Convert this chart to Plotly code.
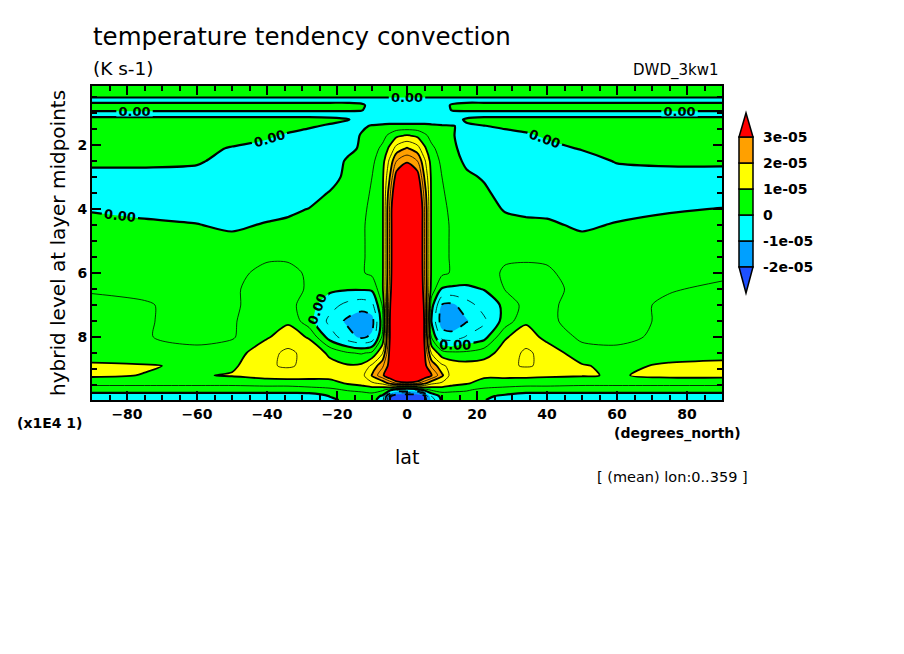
import numpy as np
import plotly.graph_objects as go

# latitude columns (degrees_north) and hybrid level rows (x1E4)
lat = [-90, -75, -60, -50, -40, -34, -28, -22, -17, -13, -10, -7, -5, -3, 0,
       3, 5, 7, 10, 13, 17, 22, 28, 34, 40, 50, 60, 75, 90]
lev = [0.15, 0.45, 0.6, 0.75, 0.9, 1.05, 1.2, 1.4, 1.7, 2.1, 2.5, 3.0, 3.5,
       4.0, 4.5, 5.0, 5.5, 6.0, 6.5, 7.0, 7.5, 8.0, 8.5, 8.9, 9.2, 9.45, 9.65,
       9.85, 9.97]

# zonal mean convective temperature tendency, one row per level, in 1e-05 K/s
lev_0_15 = [.3, .3, .3, .3, .3, .3, .3, .3, .3, .3, .3, .3, .3, .3, .3, .3, .3, .3, .3, .3, .3, .3, .3, .3, .3, .3, .3, .3, .3]
lev_0_45 = [.2, .2, .2, .2, .2, .2, .2, .2, .2, .2, .2, .2, .2, .2, .2, .2, .2, .2, .2, .2, .2, .2, .2, .2, .2, .2, .2, .2, .2]
lev_0_60 = [-.3, -.3, -.3, -.3, -.3, -.3, -.3, -.3, -.3, -.3, -.3, -.3, -.3, -.3, -.3, -.3, -.3, -.3, -.3, -.3, -.3, -.3, -.3, -.3, -.3, -.3, -.3, -.3, -.3]
lev_0_75 = [.3, .3, .3, .3, .3, .3, .3, .3, .3, .15, -.3, -.3, -.3, -.3, -.3, -.3, -.3, -.3, -.3, .1, .3, .3, .3, .3, .3, .3, .3, .3, .3]
lev_0_90 = [.1, .1, .1, .1, .1, .1, .1, .1, .1, .05, -.3, -.3, -.3, -.3, -.3, -.3, -.3, -.3, -.3, .05, .1, .1, .1, .1, .1, .1, .1, .1, .1]
lev_1_05 = [-.3, -.3, -.3, -.3, -.3, -.3, -.3, -.3, -.3, -.3, -.3, -.3, -.3, -.3, -.3, -.3, -.3, -.3, -.3, -.3, -.3, -.3, -.3, -.3, -.3, -.3, -.3, -.3, -.3]
lev_1_20 = [.3, .3, .3, .3, .3, .3, .3, .2, .05, -.3, -.3, -.3, -.3, -.3, -.3, -.3, -.3, -.3, -.3, -.3, .1, .3, .3, .3, .3, .3, .3, .3, .3]
lev_1_40 = [.3, .3, .3, .3, .3, .25, .1, -.1, -.3, -.1, .05, .1, .15, .15, .15, .15, .15, .1, .05, .02, -.1, -.02, .1, .2, .3, .3, .3, .3, .3]
lev_1_70 = [.3, .3, .3, .3, .1, -.1, -.3, -.3, -.3, .05, .2, .35, .6, .9, 1.05, .9, .6, .35, .2, .05, -.3, -.3, -.2, -.1, .1, .3, .3, .3, .3]
lev_2_10 = [.3, .3, .2, -.05, -.2, -.3, -.4, -.4, -.2, .1, .3, .6, 1.1, 1.7, 2.05, 1.7, 1.1, .6, .3, .1, -.2, -.4, -.4, -.3, -.2, .05, .2, .3, .3]
lev_2_50 = [.2, .2, .1, -.3, -.4, -.4, -.4, -.4, .1, .2, .4, .8, 1.6, 2.5, 2.9, 2.5, 1.6, .8, .4, .2, -.1, -.4, -.4, -.4, -.4, -.3, .05, .15, .15]
lev_3_00 = [-.3, -.3, -.3, -.4, -.4, -.4, -.4, -.3, .2, .3, .5, .9, 1.95, 3.3, 4.0, 3.3, 1.95, .9, .5, .3, .1, -.05, -.4, -.4, -.4, -.4, -.3, -.3, -.3]
lev_3_50 = [-.25, -.3, -.35, -.4, -.4, -.4, -.3, .05, .3, .35, .55, .9, 2.3, 3.8, 5.0, 3.8, 2.3, .9, .55, .35, .2, .1, -.2, -.4, -.4, -.4, -.35, -.3, -.25]
lev_4_00 = [-.05, -.15, -.2, -.3, -.2, -.15, .02, .2, .3, .4, .6, .9, 2.5, 4.2, 6.0, 4.2, 2.5, .9, .6, .4, .3, .25, -.05, -.15, -.15, -.3, -.2, -.05, .02]
lev_4_50 = [.2, .1, .02, -.1, .05, .15, .2, .3, .3, .45, .6, .9, 2.5, 4.2, 6.5, 4.2, 2.5, .9, .6, .45, .3, .3, .2, .15, .1, -.1, .05, .15, .2]
lev_5_00 = [.3, .3, .25, .15, .3, .35, .3, .3, .3, .45, .6, .9, 2.5, 4.2, 7.0, 4.2, 2.5, .9, .6, .45, .3, .3, .35, .35, .3, .15, .25, .3, .3]
lev_5_50 = [.35, .35, .3, .3, .45, .45, .4, .35, .3, .45, .6, .9, 2.5, 4.2, 7.0, 4.2, 2.5, .9, .6, .45, .3, .35, .45, .45, .45, .3, .3, .35, .35]
lev_6_00 = [.4, .4, .35, .4, .6, .6, .45, .35, .3, .45, .6, .9, 2.5, 4.3, 7.5, 4.3, 2.5, .9, .6, .45, .3, .35, .55, .6, .55, .35, .35, .4, .45]
lev_6_50 = [.48, .45, .4, .45, .65, .65, .45, .1, .05, .05, .1, .9, 2.6, 4.4, 7.5, 4.4, 2.6, .8, -.05, -.1, -.1, .02, .52, .65, .6, .4, .4, .48, .55]
lev_7_00 = [.55, .52, .42, .45, .65, .7, .2, -.3, -.65, -.8, -.65, .55, 2.8, 4.6, 7.5, 4.6, 2.8, .2, -1.05, -1.1, -.7, -.3, .1, .7, .55, .4, .4, .55, .6]
lev_7_50 = [.6, .52, .42, .45, .8, .92, .2, -.65, -1.1, -1.3, -1.2, .3, 2.9, 4.8, 7.5, 4.8, 2.9, -.05, -1.3, -1.35, -1.05, -.6, .2, .92, .55, .4, .4, .55, .6]
lev_8_00 = [.65, .52, .4, .45, .95, 1.25, .95, -.25, -.8, -1.1, -.9, .6, 2.9, 5.0, 8.0, 5.0, 2.9, .45, -.7, -.8, -.45, -.2, .95, 1.25, .85, .4, .4, .6, .65]
lev_8_50 = [.7, .6, .6, .75, 1.35, 1.6, 1.35, .9, .55, .45, .6, 1.45, 3.1, 5.0, 8.0, 5.0, 3.1, 1.45, .7, .6, .6, .8, 1.2, 1.6, 1.3, .7, .6, .7, .8]
lev_8_90 = [1.1, 1.05, .9, .9, 1.45, 1.55, 1.4, 1.15, 1.05, 1.1, 1.6, 2.4, 3.2, 5.0, 8.0, 5.0, 3.2, 2.4, 1.6, 1.3, 1.2, 1.2, 1.4, 1.55, 1.4, 1.05, .85, 1.1, 1.15]
lev_9_20 = [1.1, .98, .95, 1.05, 1.25, 1.3, 1.25, 1.2, 1.2, 1.3, 2.05, 2.9, 3.5, 4.5, 6.0, 4.5, 3.5, 3.05, 2.1, 1.2, 1.1, 1.1, 1.15, 1.15, 1.1, 1.05, .95, 1.15, 1.15]
lev_9_45 = [.6, .6, .6, .6, .65, .65, .7, .8, 1.05, 1.2, 1.4, 1.6, 2.1, 2.5, 2.6, 2.5, 2.1, 1.6, 1.4, 1.2, 1.05, .8, .7, .65, .65, .6, .6, .6, .6]
lev_9_65 = [.3, .3, .3, .3, .3, .3, .35, .4, .55, .6, .7, .6, .3, -.3, -.5, -.3, .3, .6, .7, .6, .55, .4, .35, .3, .3, .3, .3, .3, .3]
lev_9_85 = [-.3, -.3, -.3, -.3, -.3, -.3, -.3, .02, .2, .3, .3, -.1, -1.8, -2.6, -2.6, -2.6, -2.2, -.5, .2, .3, .3, .1, -.1, -.3, -.3, -.3, -.3, -.3, -.3]
lev_9_97 = [-.4, -.4, -.4, -.4, -.4, -.4, -.4, -.1, .1, .2, .2, -.3, -2.05, -2.6, -2.6, -2.6, -2.4, -.8, .1, .2, .2, .02, -.2, -.4, -.4, -.4, -.4, -.4, -.4]

z = np.array([lev_0_15, lev_0_45, lev_0_60, lev_0_75, lev_0_90, lev_1_05, lev_1_20,
              lev_1_40, lev_1_70, lev_2_10, lev_2_50, lev_3_00, lev_3_50, lev_4_00,
              lev_4_50, lev_5_00, lev_5_50, lev_6_00, lev_6_50, lev_7_00, lev_7_50,
              lev_8_00, lev_8_50, lev_8_90, lev_9_20, lev_9_45, lev_9_65, lev_9_85,
              lev_9_97])

# shading levels (1e-05 K/s) and colours: below -2 ... above 3
shade_levels = [-2, -1, 0, 1, 2, 3]
shade_colors = ["#1e50ff", "#00a0ff", "#00ffff", "#00ff00", "#ffff00", "#ffa000", "#ff0000"]
cbar_labels = ["-2e-05", "-1e-05", "0", "1e-05", "2e-05", "3e-05"]

FONT = "DejaVu Sans"

n = len(shade_colors)
cscale = [[i / (n - 1), c] for i, c in enumerate(shade_colors)]

fig = go.Figure()

# filled bands
fig.add_trace(go.Contour(
    x=lat, y=lev, z=z, autocontour=False,
    contours=dict(start=shade_levels[0], end=shade_levels[-1], size=1, coloring="fill"),
    colorscale=cscale, showscale=False, line=dict(width=0, smoothing=0.8),
    hoverinfo="skip"))


def lines(start, end, width, dash="solid", labels=False):
    fig.add_trace(go.Contour(
        x=lat, y=lev, z=z, autocontour=False,
        contours=dict(start=start, end=end, size=1, coloring="none",
                      showlabels=labels, labelformat=".2f",
                      labelfont=dict(family=FONT, size=13, color="black", weight="bold")),
        line=dict(color="black", width=width, dash=dash, smoothing=0.8),
        showscale=False, hoverinfo="skip"))


lines(0, 0.5, 2.2, labels=True)
lines(1, 3, 1.8)
lines(0.5, 2.5, 0.8)
lines(-2, -1, 1.8, dash="dash")
lines(-1.5, -0.5, 0.8, dash="dash")

# plot box in screen pixels: x 92..722, y 86..400 (page has an 8 px offset)
L, R, T, B = 92, 722, 86, 400
OFF = 8


def pxx(p):
    return (p - L) / (R - L)


def pxy(p):
    return (B - p) / (B - T)


# colour key drawn by hand (GrADS style with end triangles)
shapes = []
bx0, bx1, bxm = pxx(739), pxx(753), pxx(746)
top_px, step = 137, 26
for i in range(len(shade_levels) - 1):
    lo = shade_levels[i]
    y_lo = top_px + (shade_levels[-1] - lo) * step
    y_hi = y_lo - step
    shapes.append(dict(type="rect", xref="paper", yref="paper",
                       x0=bx0, x1=bx1, y0=pxy(y_lo), y1=pxy(y_hi),
                       fillcolor=shade_colors[i + 1], line=dict(color="black", width=1.5)))
y_top = top_px
y_bot = top_px + (shade_levels[-1] - shade_levels[0]) * step
shapes.append(dict(type="path", xref="paper", yref="paper",
                   path=f"M {bx0} {pxy(y_top)} L {bx1} {pxy(y_top)} L {bxm} {pxy(y_top - 24)} Z",
                   fillcolor=shade_colors[-1], line=dict(color="black", width=1.5)))
shapes.append(dict(type="path", xref="paper", yref="paper",
                   path=f"M {bx0} {pxy(y_bot)} L {bx1} {pxy(y_bot)} L {bxm} {pxy(y_bot + 26)} Z",
                   fillcolor=shade_colors[0], line=dict(color="black", width=1.5)))

ann = []
for lvl, txt in zip(shade_levels, cbar_labels):
    ann.append(dict(x=pxx(761), y=pxy(top_px + (shade_levels[-1] - lvl) * step),
                    text=txt, xanchor="left", yanchor="middle",
                    font=dict(size=14, weight="bold")))


def text(x, y, s, size, anchor="left", angle=0, weight="normal"):
    ann.append(dict(x=pxx(x), y=pxy(y), text=s, xanchor=anchor, yanchor="middle",
                    textangle=angle, font=dict(size=size, weight=weight)))


text(91, 37, "temperature tendency convection", 24.5)
text(91, 68, "(K s-1)", 18.5)
text(720, 70, "DWD_3kw1", 15, anchor="right")
text(58, 243, "hybrid level at layer midpoints", 20, anchor="center", angle=-90)
text(50, 423, "(x1E4 1)", 14, anchor="center", weight="bold")
text(407, 457, "lat", 19, anchor="center")
text(677, 433, "(degrees_north)", 14, anchor="center", weight="bold")
text(672, 477, "[ (mean) lon:0..359 ]", 14.5, anchor="center")

for a in ann:
    a.update(xref="paper", yref="paper", showarrow=False)
    a["font"].update(family=FONT, color="black")

axis_common = dict(showline=True, linecolor="black", linewidth=2, mirror="ticks",
                   ticks="inside", ticklen=9, tickwidth=2, tickcolor="black",
                   showgrid=False, zeroline=False,
                   tickfont=dict(family=FONT, size=14, color="black", weight="bold"))

fig.update_layout(
    width=904 - OFF, height=654 - OFF,
    margin=dict(l=L - OFF, r=904 - R, t=T - OFF, b=654 - B),
    paper_bgcolor="white", plot_bgcolor="white",
    showlegend=False,
    xaxis=dict(range=[-90, 90], dtick=20, tick0=0,
               minor=dict(dtick=5, ticks="inside", ticklen=5, tickcolor="black", tickwidth=1.5),
               **axis_common),
    yaxis=dict(range=[lev[-1], lev[0]], dtick=2, tick0=0,
               minor=dict(dtick=0.5, ticks="inside", ticklen=5, tickcolor="black", tickwidth=1.5),
               **axis_common),
    shapes=shapes, annotations=ann,
)

fig.write_html("out.html")
